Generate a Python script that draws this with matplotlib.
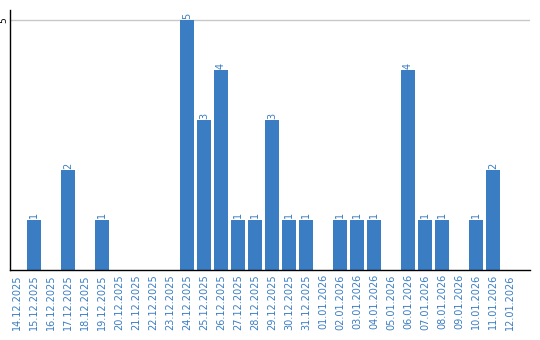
import matplotlib
matplotlib.use("Agg")
import matplotlib.pyplot as plt

dates = ["14.12.2025", "15.12.2025", "16.12.2025", "17.12.2025", "18.12.2025",
         "19.12.2025", "20.12.2025", "21.12.2025", "22.12.2025", "23.12.2025",
         "24.12.2025", "25.12.2025", "26.12.2025", "27.12.2025", "28.12.2025",
         "29.12.2025", "30.12.2025", "31.12.2025", "01.01.2026", "02.01.2026",
         "03.01.2026", "04.01.2026", "05.01.2026", "06.01.2026", "07.01.2026",
         "08.01.2026", "09.01.2026", "10.01.2026", "11.01.2026", "12.01.2026"]
counts = [0, 1, 0, 2, 0, 1, 0, 0, 0, 0,
          5, 3, 4, 1, 1, 3, 1, 1, 0, 1,
          1, 1, 0, 4, 1, 1, 0, 1, 2, 0]
yticks = [5]

BLUE = "#3a7dc2"

fig = plt.figure(figsize=(5.4, 3.4), dpi=100)
ax = fig.add_axes([10 / 540, 70 / 340, 520 / 540, 260 / 340])

x = list(range(len(dates)))
ax.bar(x, counts, width=14 / 17, color=BLUE, zorder=2)
for xi, c in zip(x, counts):
    if c > 0:
        ax.text(xi, c + 0.03, str(c), rotation=90, ha="center", va="bottom",
                color=BLUE, fontsize=7)

ax.set_xlim(-0.41, 30.18)
ax.set_ylim(0, 5.2)
ax.set_xticks(x)
ax.set_xticklabels(dates, rotation=90, color=BLUE, fontsize=7)
ax.set_yticks(yticks)
ax.set_yticklabels([str(v) for v in yticks], rotation=90, va="center", fontsize=6.5)
ax.tick_params(axis="x", length=0, pad=3)
ax.tick_params(axis="y", length=0, pad=1)
ax.grid(axis="y", color="#c8c8c8", linewidth=1, zorder=0)
for side in ("top", "right"):
    ax.spines[side].set_visible(False)
for side in ("left", "bottom"):
    ax.spines[side].set_color("black")
    ax.spines[side].set_linewidth(1.0)

fig.savefig("out.png", dpi=100)
